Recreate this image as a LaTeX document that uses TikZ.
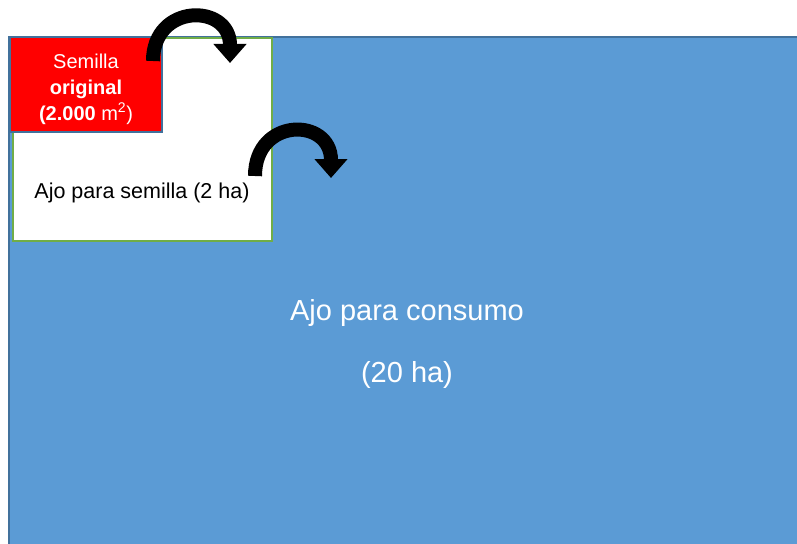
\documentclass[tikz,border=0pt]{standalone}
\usepackage{fontspec}
\setmainfont{Liberation Sans}
\usetikzlibrary{arrows.meta}
\definecolor{cblue}{HTML}{5B9BD5}
\definecolor{cblueline}{HTML}{41719C}
\definecolor{cgreen}{HTML}{70AD47}
\definecolor{cred}{HTML}{FF0000}
\tikzset{
  area/.style={draw, line width=1.5pt, inner sep=0pt, outer sep=0pt},
  bigarrow/.style={line width=14pt, -{Triangle[width=32pt,length=19pt]}},
}
\begin{document}
\begin{tikzpicture}[x=1pt,y=-1pt]
\useasboundingbox (0,0) rectangle (797,543);
\clip (0,0) rectangle (797,543);
\fill[white] (0,0) rectangle (797,543);
% blue field
\node[area, draw=cblueline, fill=cblue, anchor=north west, minimum width=800pt, minimum height=520pt] (blue) at (9,37) {};
% white field
\node[area, draw=cgreen, fill=white, anchor=north west, minimum width=259pt, minimum height=203pt] (white) at (13,38) {};
% red field
\node[area, draw=cblueline, fill=cred, anchor=north west, minimum width=152pt, minimum height=95pt] (red) at (10,37) {};
% texts
\node[text=white, font=\fontsize{20}{26}\selectfont, align=center] (redtxt) at (86,89)
  {Semilla\\\textbf{original}\\\textbf{(2.000} m\textsuperscript{2})};
\node[font=\fontsize{21.5}{24}\selectfont] (whitetxt) at (142,193) {Ajo para semilla (2 ha)};
\node[text=white, font=\fontsize{29}{32}\selectfont] (bluetxt1) at (407,313) {Ajo para consumo};
\node[text=white, font=\fontsize{29}{32}\selectfont] (bluetxt2) at (407,375) {(20 ha)};
% arrows
\coordinate (a1s) at (153,61);
\coordinate (a1e) at (230,63);
\coordinate (a2s) at (255,176);
\coordinate (a2e) at (331,178);
\draw[bigarrow] (a1s) .. controls (153,3) and (230,3) .. (a1e);
\draw[bigarrow] (a2s) .. controls (255,117) and (331,117) .. (a2e);
\end{tikzpicture}
\end{document}
